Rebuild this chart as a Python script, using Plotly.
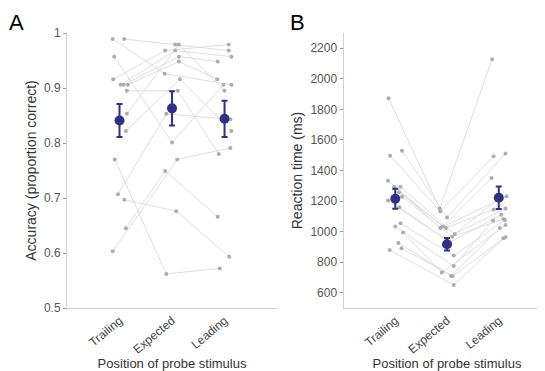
import plotly.graph_objects as go

conditions = ["Trailing", "Expected", "Leading"]

# Panel A: accuracy per subject (trailing, expected, leading)
acc_trailing = [0.989, 0.989, 0.957, 0.916, 0.906, 0.906, 0.906, 0.895, 0.853, 0.822,
                0.707, 0.770, 0.697, 0.645, 0.603]
acc_expected = [0.926, 0.979, 0.801, 0.968, 0.968, 0.957, 0.948, 0.895, 0.979, 0.916,
                0.853, 0.562, 0.676, 0.749, 0.770]
acc_leading = [0.906, 0.968, 0.906, 0.979, 0.957, 0.948, 0.916, 0.780, 0.895, 0.822,
               0.843, 0.572, 0.593, 0.666, 0.791]
acc_mean = [0.841, 0.863, 0.844]
acc_sem = [0.030, 0.031, 0.033]

# horizontal scatter of the individual dots (category units)
acc_jit_t = [-0.13, 0.09, -0.10, -0.12, 0.02, 0.08, 0.16, 0.14, 0.14, 0.12,
             -0.03, -0.09, 0.09, 0.12, -0.13]
acc_jit_e = [-0.14, 0.06, 0.0, -0.13, 0.06, 0.13, 0.13, 0.11, 0.13, 0.15,
             -0.11, -0.11, 0.08, -0.13, 0.10]
acc_jit_l = [0.13, 0.08, -0.02, 0.08, 0.13, -0.13, -0.14, -0.11, 0.0, 0.13,
             0.11, -0.09, 0.09, -0.13, 0.11]

# Panel B: reaction time per subject (ms)
rt_trailing = [1873, 1529, 1497, 1333, 1294, 1294, 1257, 1229, 1203, 1159,
               1054, 1033, 995, 926, 891, 880]
rt_expected = [1152, 1093, 1133, 1033, 1024, 984, 1024, 967, 943, 930,
               843, 775, 732, 710, 710, 651]
rt_leading = [2128, 1512, 1493, 1351, 1231, 1152, 1145, 1082, 1215, 1110,
              1076, 1072, 1043, 1024, 963, 956]
rt_mean = [1215, 917, 1222]
rt_sem = [65, 41, 74]

rt_jit_t = [-0.13, 0.13, -0.10, -0.14, -0.02, 0.10, 0.07, 0.13, -0.14, 0.08,
            0.10, 0.0, 0.15, 0.06, 0.12, -0.11]
rt_jit_e = [-0.14, 0.0, -0.13, -0.08, -0.13, 0.15, -0.02, 0.10, 0.0, 0.05,
            0.13, 0.13, -0.10, 0.08, 0.11, 0.13]
rt_jit_l = [-0.13, 0.13, -0.10, -0.14, 0.15, 0.13, -0.10, 0.09, 0.0, 0.05,
            0.12, -0.11, 0.13, 0.02, 0.13, 0.09]

GREY_LINE = "#d6d6d6"
GREY_DOT = "#adadad"
NAVY = "#2f3185"


def add_panel(fig, t, e, l, jt, je, jl, mean, sem, xa, ya):
    xs, ys = [], []
    for i in range(len(t)):
        xs += [1 + jt[i], 2 + je[i], 3 + jl[i], None]
        ys += [t[i], e[i], l[i], None]
    fig.add_trace(go.Scatter(x=xs, y=ys, mode="lines",
                             line=dict(color=GREY_LINE, width=0.8),
                             xaxis=xa, yaxis=ya, hoverinfo="skip"))
    px = [v for v in xs if v is not None]
    py = [v for v in ys if v is not None]
    fig.add_trace(go.Scatter(x=px, y=py, mode="markers",
                             marker=dict(color=GREY_DOT, size=4),
                             xaxis=xa, yaxis=ya))
    fig.add_trace(go.Scatter(x=[1, 2, 3], y=mean, mode="markers",
                             marker=dict(color=NAVY, size=10),
                             error_y=dict(type="data", array=sem, color=NAVY,
                                          thickness=2, width=3),
                             xaxis=xa, yaxis=ya))


fig = go.Figure()
add_panel(fig, acc_trailing, acc_expected, acc_leading,
          acc_jit_t, acc_jit_e, acc_jit_l, acc_mean, acc_sem, "x", "y")
add_panel(fig, rt_trailing, rt_expected, rt_leading,
          rt_jit_t, rt_jit_e, rt_jit_l, rt_mean, rt_sem, "x2", "y2")

axis_common = dict(showline=True, linecolor="#d0d0d0", linewidth=1,
                   showgrid=False, zeroline=False,
                   tickfont=dict(color="#555555", size=12))

xcommon = dict(axis_common, range=[0, 4], tickvals=[1, 2, 3], ticktext=conditions,
               tickangle=-40, ticks="", tickfont=dict(color="#444444", size=12),
               title=dict(text="Position of probe stimulus",
                          font=dict(color="#333333", size=13), standoff=0))

fig.update_layout(
    width=545, height=371,
    paper_bgcolor="white", plot_bgcolor="white",
    showlegend=False,
    font=dict(family="Liberation Sans, Arial, sans-serif"),
    margin=dict(l=59, r=2, t=25, b=71),
    xaxis=dict(xcommon, domain=[0, 0.434], anchor="y"),
    xaxis2=dict(xcommon, domain=[0.5713, 0.999], anchor="y2"),
    yaxis=dict(axis_common, range=[0.5, 1], anchor="x",
               tickvals=[0.5, 0.6, 0.7, 0.8, 0.9, 1],
               ticktext=["0.5", "0.6", "0.7", "0.8", "0.9", "1"],
               ticks="outside", ticklen=3, tickcolor="#999999",
               title=dict(text="Accuracy (proportion correct)",
                          font=dict(color="#333333", size=14), standoff=4)),
    yaxis2=dict(axis_common, range=[500, 2300], anchor="x2",
                tickvals=[600, 800, 1000, 1200, 1400, 1600, 1800, 2000, 2200],
                ticks="outside", ticklen=3, tickcolor="#999999",
                title=dict(text="Reaction time (ms)",
                           font=dict(color="#333333", size=14), standoff=4)),
    annotations=[
        dict(text="A", x=0, y=1, xref="paper", yref="paper", xshift=-60, yshift=25,
             showarrow=False, xanchor="left", yanchor="top",
             font=dict(size=22, color="black")),
        dict(text="B", x=0.5713, y=1, xref="paper", yref="paper", xshift=-56, yshift=25,
             showarrow=False, xanchor="left", yanchor="top",
             font=dict(size=22, color="black")),
    ],
)

fig.write_html("out.html")
